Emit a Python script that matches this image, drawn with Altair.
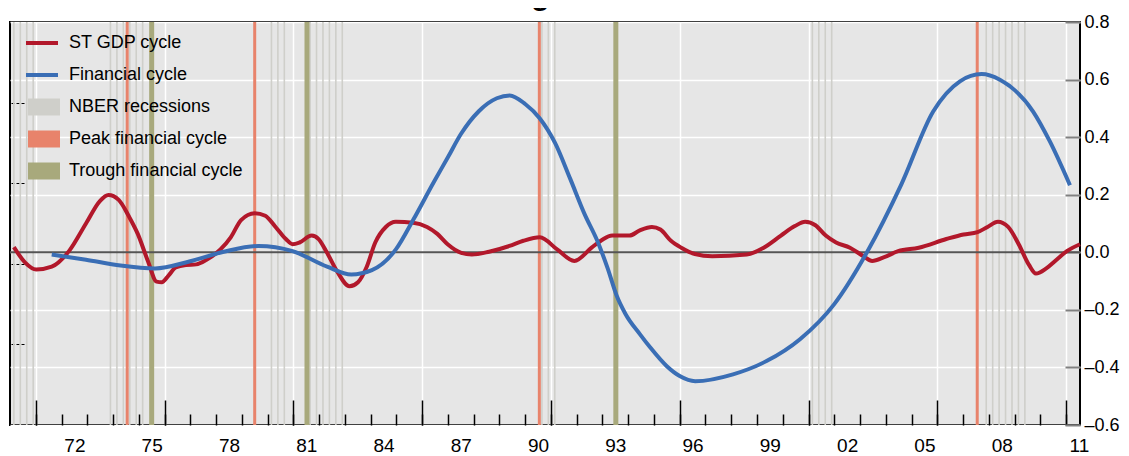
import altair as alt
import pandas as pd

# ---------------- data ----------------
gdp_years = [1970.15, 1970.58, 1971.02, 1971.62, 1972.29, 1972.95, 1973.49, 1973.82, 1974.22,
             1974.62, 1974.96, 1975.36, 1975.69, 1975.89, 1976.16, 1976.43, 1976.83, 1977.23,
             1977.63, 1978.17, 1978.57, 1978.97, 1979.50, 1979.91, 1980.31, 1980.71, 1980.97,
             1981.24, 1981.71, 1981.98, 1982.31, 1982.71, 1983.18, 1983.51, 1983.85, 1984.18,
             1984.59, 1984.98, 1985.65, 1986.19, 1986.59, 1986.99, 1987.52, 1987.93, 1988.60,
             1989.39, 1989.93, 1990.57, 1991.24, 1991.91, 1992.58, 1992.98, 1993.38, 1994.05,
             1994.45, 1994.92, 1995.25, 1995.66, 1996.06, 1996.59, 1997.26, 1998.60, 1999.26,
             1999.93, 2000.47, 2000.87, 2001.27, 2001.67, 2002.07, 2002.61, 2003.14, 2003.47,
             2003.94, 2004.48, 2005.28, 2006.35, 2007.02, 2007.56, 2007.95, 2008.35, 2008.75,
             2009.16, 2009.56, 2009.83, 2010.23, 2010.63, 2011.03, 2011.54]
gdp_values = [0.018, -0.035, -0.060, -0.050, 0.004, 0.100, 0.178, 0.199, 0.182,
              0.124, 0.064, -0.032, -0.102, -0.104, -0.080, -0.053, -0.044, -0.042,
              -0.026, 0.010, 0.052, 0.112, 0.136, 0.127, 0.088, 0.046, 0.028,
              0.034, 0.058, 0.046, -0.002, -0.068, -0.118, -0.104, -0.050, 0.034,
              0.088, 0.106, 0.103, 0.088, 0.064, 0.028, -0.002, -0.008, 0.002,
              0.022, 0.040, 0.052, 0.010, -0.030, 0.016, 0.043, 0.058, 0.058,
              0.076, 0.088, 0.079, 0.040, 0.016, -0.006, -0.014, -0.008, 0.016,
              0.058, 0.091, 0.106, 0.094, 0.058, 0.034, 0.016, -0.014, -0.030,
              -0.017, 0.004, 0.016, 0.046, 0.062, 0.070, 0.088, 0.106, 0.088,
              0.028, -0.044, -0.074, -0.056, -0.026, 0.004, 0.028]

fin_years = [1971.62, 1972.95, 1974.29, 1975.63, 1976.96, 1978.30, 1979.64, 1980.97, 1982.31,
             1983.25, 1984.05, 1984.98, 1985.65, 1986.46, 1987.00, 1987.50, 1988.20, 1988.90,
             1989.40, 1990.00, 1990.57, 1991.16, 1991.75, 1992.32, 1992.80, 1993.20, 1993.55,
             1993.90, 1994.46, 1994.85, 1995.49, 1996.00, 1996.60, 1998.07, 1999.37, 2000.67,
             2002.00, 2003.27, 2004.60, 2005.84, 2006.88, 2007.72, 2008.43, 2009.72, 2010.37,
             2011.15]
fin_values = [-0.008, -0.026, -0.046, -0.056, -0.032, 0.002, 0.022, 0.004, -0.050,
              -0.077, -0.062, 0.010, 0.112, 0.245, 0.330, 0.410, 0.490, 0.535,
              0.545, 0.515, 0.465, 0.380, 0.255, 0.130, 0.040, -0.055, -0.150,
              -0.215, -0.285, -0.330, -0.395, -0.430, -0.448, -0.424, -0.378, -0.302,
              -0.180, 0.000, 0.235, 0.489, 0.594, 0.619, 0.599, 0.489, 0.385,
              0.233]

nber_dates = [1970.15, 1970.40, 1970.65, 1970.90,
              1973.90, 1974.15, 1974.40, 1974.65, 1974.90, 1975.15,
              1980.15, 1980.40, 1980.65,
              1981.65, 1981.90, 1982.15, 1982.40, 1982.65, 1982.90,
              1990.65, 1990.90, 1991.15,
              2001.15, 2001.40, 2001.65, 2001.90,
              2007.90, 2008.15, 2008.40, 2008.65, 2008.90, 2009.15, 2009.40]
peak_dates = [1974.55, 1979.50, 1990.55, 2007.55]
trough_dates = [1975.50, 1981.53, 1993.52]

series_names = ["ST GDP cycle", "Financial cycle"]
band_names = ["NBER recessions", "Peak financial cycle", "Trough financial cycle"]
title_text = ["Figure 1"]

x_domain = [1970.0, 2011.54]
y_domain = [-0.6, 0.8]
x_major_ticks = [1971, 1976, 1981, 1986, 1991, 1996, 2001, 2006, 2011]
x_minor_ticks = list(range(1971, 2012))
x_label_years = [1972, 1975, 1978, 1981, 1984, 1987, 1990, 1993, 1996, 1999, 2002, 2005, 2008, 2011]
y_ticks = [-0.6, -0.4, -0.2, 0.0, 0.2, 0.4, 0.6, 0.8]
left_ticks = [0.52, 0.24, -0.04, -0.32]

# ---------------- styling ----------------
FONT = "Liberation Sans, Arial, sans-serif"
RED = "#B2182B"
BLUE = "#3A6EB5"
NBER = "#CFCFCA"
PEAK = "#E8836B"
TROUGH = "#A8A97C"
RECT_SYMBOL = "M-1,-0.53H1V0.53H-1Z"

lines_df = pd.concat([
    pd.DataFrame({"year": gdp_years, "value": gdp_values, "series": series_names[0]}),
    pd.DataFrame({"year": fin_years, "value": fin_values, "series": series_names[1]}),
])
nber_df = pd.DataFrame({"year": nber_dates})
peak_df = pd.DataFrame({"year": peak_dates})
trough_df = pd.DataFrame({"year": trough_dates})
band_key_df = pd.DataFrame({"label": band_names})
title_df = pd.DataFrame({"text": title_text})
zero_df = pd.DataFrame({"x0": [x_domain[0]], "x1": [x_domain[1]], "y": [0.0]})

xscale = alt.Scale(domain=x_domain, nice=False, zero=False)
yscale = alt.Scale(domain=y_domain, nice=False, zero=False)

legend_common = dict(orient="none", title=None, padding=0, rowPadding=0, clipHeight=32,
                     symbolSize=1024, labelFont=FONT, labelFontSize=18,
                     labelColor="black", labelOffset=9, labelLimit=400, symbolOpacity=1)

grid_only = dict(grid=True, gridColor="white", gridWidth=1.5, gridOpacity=1, ticks=False,
                 labels=False, domain=False, title=None)

# legend key for the vertical markers (invisible points, filled rectangle symbols);
# it also carries the white grid lines of both axes
band_key = alt.Chart(band_key_df).mark_point(filled=True, opacity=0).encode(
    x=alt.XDatum(1990.0, type="quantitative", scale=xscale,
                 axis=alt.Axis(orient="top", values=x_major_ticks, **grid_only)),
    y=alt.YDatum(0.0, type="quantitative", scale=yscale,
                 axis=alt.Axis(orient="left", values=y_ticks, **grid_only)),
    color=alt.Color("label:N", scale=alt.Scale(domain=band_names, range=[NBER, PEAK, TROUGH]),
                    legend=alt.Legend(legendX=18, legendY=69, symbolType=RECT_SYMBOL,
                                      symbolStrokeWidth=0, **legend_common)),
)

nber = alt.Chart(nber_df).mark_rule(color=NBER, strokeWidth=1.6).encode(
    x=alt.X("year:Q", scale=xscale,
            axis=alt.Axis(orient="bottom", values=x_major_ticks, grid=False, ticks=True,
                          tickSize=25, offset=-25, tickColor="black", tickWidth=1.5,
                          labels=False, domain=False, title=None)),
)
peak = alt.Chart(peak_df).mark_rule(color=PEAK, strokeWidth=3).encode(
    x=alt.X("year:Q", scale=xscale, axis=None),
)
trough = alt.Chart(trough_df).mark_rule(color=TROUGH, strokeWidth=5).encode(
    x=alt.X("year:Q", scale=xscale, axis=None),
)

zero = alt.Chart(zero_df).mark_rule(color="#555555", strokeWidth=2).encode(
    x=alt.X("x0:Q", scale=xscale,
            axis=alt.Axis(orient="bottom", values=x_minor_ticks, ticks=True, tickSize=11, offset=-11,
                          tickColor="black", tickWidth=1.5, labels=False, domain=False, grid=False,
                          title=None)),
    x2="x1:Q",
    y=alt.Y("y:Q", scale=yscale,
            axis=alt.Axis(orient="left", values=left_ticks, ticks=True, tickSize=14, offset=-14,
                          tickColor="black", tickWidth=1.2, tickDash=[3, 2], labels=False,
                          domain=False, grid=False, title=None)),
)

lines = alt.Chart(lines_df).mark_line(interpolate="monotone").encode(
    x=alt.X("year:Q", scale=xscale,
            axis=alt.Axis(orient="bottom", values=[y + 0.5 for y in x_label_years],
                          labelExpr="slice(toString(floor(datum.value)), 2)",
                          ticks=False, domain=False, grid=False, labelPadding=11,
                          labelFontSize=19, labelFlush=False, labelOverlap=False, title=None)),
    y=alt.Y("value:Q", scale=yscale,
            axis=alt.Axis(orient="right", values=y_ticks, ticks=True, tickSize=15, offset=-15,
                          tickColor="#808080", tickWidth=2, grid=False, domain=False, labelPadding=4,
                          labelFontSize=18, labelFlush=False, labelOverlap=False,
                          labelExpr="replace(replace(format(datum.value, '.1f'), '\u2212', '\u2013'), '-', '\u2013')",
                          title=None)),
    color=alt.Color("series:N", scale=alt.Scale(domain=series_names, range=[RED, BLUE]),
                    legend=alt.Legend(legendX=14, legendY=5, symbolType="stroke",
                                      symbolStrokeWidth=4, **legend_common)),
    strokeWidth=alt.value(4),
)

# page title, cut off by the top edge as in the reference
title = alt.Chart(title_df).mark_text(
    font="Liberation Sans", fontSize=30, fontWeight="bold", color="black",
    align="center", baseline="alphabetic"
).encode(
    text="text:N",
    x=alt.value(553),
    y=alt.value(-17),
)

chart = alt.layer(band_key, nber, peak, trough, zero, lines, title).resolve_scale(
    color="independent"
).resolve_axis(
    x="independent", y="independent"
).properties(
    width=1070, height=403,
    autosize=alt.AutoSizeParams(type="none"),
    padding={"left": 2, "top": 14, "right": 41, "bottom": 31},
).configure_view(
    fill="#E6E6E6", stroke="black", strokeWidth=2
).configure_axis(
    labelFont=FONT, labelFontSize=19, labelColor="black"
)

chart.save("out.html", embed_options={"renderer": "svg", "actions": False})
